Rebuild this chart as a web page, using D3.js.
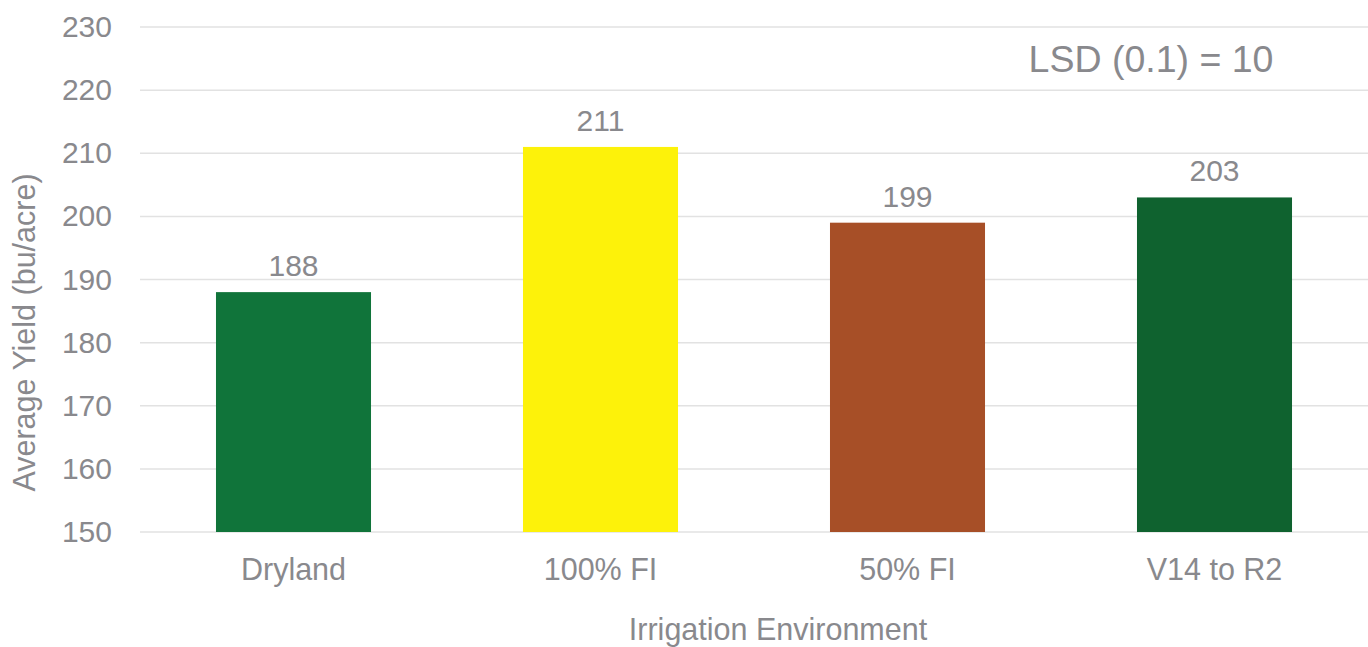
<!DOCTYPE html>
<html>
<head>
<meta charset="utf-8">
<script src="https://cdn.jsdelivr.net/npm/d3@7"></script>
<style>
  html, body { margin: 0; padding: 0; background: #fff; }
  svg { display: block; font-family: "Liberation Sans", Arial, Helvetica, sans-serif; }
</style>
</head>
<body>
<svg id="chart" width="1368" height="647"></svg>
<script>
// Average yield by irrigation environment
const categories = ["Dryland", "100% FI", "50% FI", "V14 to R2"];
const yields = [188, 211, 199, 203];
const barColors = ["#10743a", "#fdf20a", "#a74f27", "#0f622f"];
const yTicks = [150, 160, 170, 180, 190, 200, 210, 220, 230];
const annotation = "LSD (0.1) = 10";
const yTitle = "Average Yield (bu/acre)";
const xTitle = "Irrigation Environment";

const textColor = "#89898d";
const svg = d3.select("#chart");

const plot = { left: 140, right: 1368, top: 27, bottom: 532 };

const x = d3.scaleBand()
  .domain(categories)
  .range([plot.left, plot.right])
  .paddingInner(0.495)
  .paddingOuter(0.2475);

const y = d3.scaleLinear()
  .domain([150, 230])
  .range([plot.bottom, plot.top]);

// horizontal gridlines
svg.append("g")
  .selectAll("line")
  .data(yTicks)
  .join("line")
  .attr("x1", plot.left)
  .attr("x2", plot.right)
  .attr("y1", d => y(d))
  .attr("y2", d => y(d))
  .attr("stroke", "#e2e2e2")
  .attr("stroke-width", 1.5);

// y tick labels
const yAxis = svg.append("g")
  .attr("transform", `translate(${plot.left},0)`)
  .call(d3.axisLeft(y).tickValues(yTicks).tickSize(0).tickPadding(28));
yAxis.select(".domain").remove();
yAxis.selectAll("text")
  .attr("fill", textColor)
  .style("font-size", "30px")
  .attr("font-family", null);

// bars
svg.append("g")
  .selectAll("rect")
  .data(yields)
  .join("rect")
  .attr("x", (d, i) => x(categories[i]))
  .attr("width", x.bandwidth())
  .attr("y", d => y(d))
  .attr("height", d => y(150) - y(d))
  .attr("fill", (d, i) => barColors[i]);

// value labels
svg.append("g")
  .selectAll("text")
  .data(yields)
  .join("text")
  .attr("x", (d, i) => x(categories[i]) + x.bandwidth() / 2)
  .attr("y", d => y(d) - 16)
  .attr("text-anchor", "middle")
  .attr("fill", textColor)
  .style("font-size", "30px")
  .text(d => d);

// x category labels
const xAxis = svg.append("g")
  .attr("transform", `translate(0,${plot.bottom})`)
  .call(d3.axisBottom(x).tickSize(0).tickPadding(26));
xAxis.select(".domain").remove();
xAxis.selectAll("text")
  .attr("fill", textColor)
  .style("font-size", "30.5px")
  .attr("font-family", null);

// axis titles
svg.append("text")
  .attr("transform", `translate(35,${(plot.top + plot.bottom) / 2 + 53}) rotate(-90)`)
  .attr("text-anchor", "middle")
  .attr("fill", textColor)
  .style("font-size", "30.5px")
  .text(yTitle);

svg.append("text")
  .attr("x", 778)
  .attr("y", 640)
  .attr("text-anchor", "middle")
  .attr("fill", textColor)
  .style("font-size", "30.5px")
  .text(xTitle);

// LSD annotation
svg.append("text")
  .attr("x", 1151)
  .attr("y", 72)
  .attr("text-anchor", "middle")
  .attr("fill", textColor)
  .style("font-size", "37.5px")
  .text(annotation);
</script>
</body>
</html>
